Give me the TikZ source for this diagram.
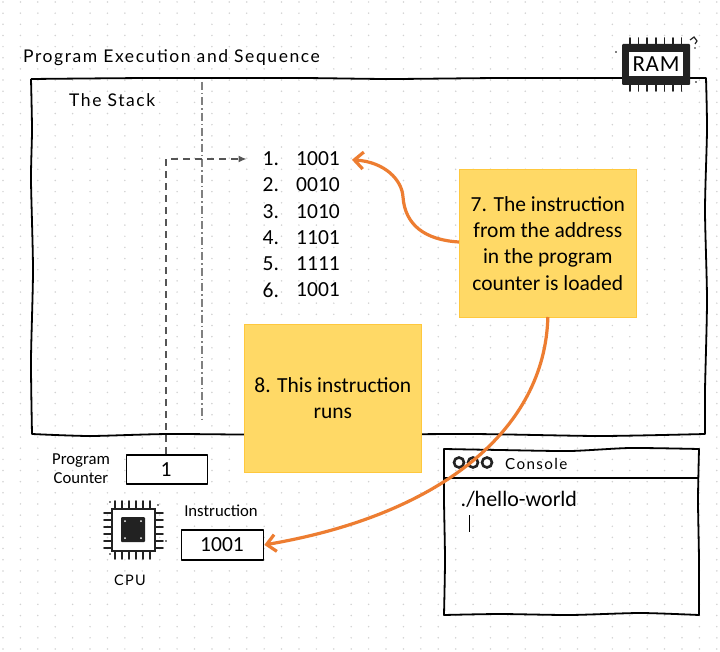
\documentclass[tikz,border=0pt]{standalone}
\usepackage{fontspec}
\setmainfont{Carlito}
\newfontfamily\hand[LetterSpace=9]{Lato}
\usetikzlibrary{arrows.meta}
\definecolor{orangeline}{HTML}{ED7D31}
\definecolor{notefill}{HTML}{FFD966}
\definecolor{noteedge}{HTML}{FFC83D}
\definecolor{griddot}{HTML}{D2D2D2}
\definecolor{dashgrey}{HTML}{555555}
\definecolor{chipblack}{HTML}{222222}
\tikzset{
  x=1pt,y=-1pt,
  sketch/.style={draw=black,line width=1.8pt,line join=round},
  body/.style={inner sep=0pt,text=black,font=\fontsize{21.5}{23}\selectfont},
  small/.style={inner sep=0pt,text=black,font=\fontsize{16.7}{19.5}\selectfont,align=center},
  handtxt/.style={inner sep=0pt,text=black,font=\hand\fontsize{17.5}{20}\selectfont},
  note/.style={draw=noteedge,line width=0.7pt,fill=notefill,anchor=north west,inner sep=0pt,align=center,
    font=\fontsize{21.5}{26.4}\selectfont,text=black},
  flow/.style={draw=orangeline,line width=3.2pt,-{Straight Barb[length=9pt,width=17pt,line width=3.2pt]}},
  pcflow/.style={draw=dashgrey,line width=1.4pt,dash pattern=on 7pt off 5pt,-{Latex[length=8pt,width=7pt]}},
  stackline/.style={draw=gray,line width=1.3pt,dash pattern=on 8pt off 3pt on 1.5pt off 3pt},
  pin/.style={draw=chipblack,line width=1.7pt,line cap=round},
}
\begin{document}
\begin{tikzpicture}
\useasboundingbox (0,0) rectangle (720,652);
\fill[white] (0,0) rectangle (720,652);
% dotted paper
\foreach \i in {0,...,41}{\foreach \j in {0,...,58}{
  \fill[griddot] ({3+17.41*\i},{2+11.155*\j}) circle (0.85pt);}}
% memory frame
\draw[sketch] plot[smooth,tension=0.4] coordinates {(31,79) (150,78) (300,78) (390,79) (500,78) (620,78) (706,78)}
  -- plot[smooth,tension=0.4] coordinates {(706,78) (707,130) (705,210) (707,300) (705,390) (705,434)}
  -- plot[smooth,tension=0.4] coordinates {(705,434) (600,436) (470,434) (300,435) (170,434) (90,436) (32,434)}
  -- plot[smooth,tension=0.4] coordinates {(32,434) (31,360) (33,270) (31,180) (32,130) (31,79)};
\draw[stackline] (202,82) -- (202,422);
% labels
\node[handtxt,anchor=west] (title) at (23,58) {Program Execution and Sequence};
\node[handtxt,anchor=west] (stack) at (69,100) {The Stack};
% list
\foreach \n/\v/\y in {1/1001/159,2/0010/185,3/1010/212,4/1101/238,5/1111/264,6/1001/290}{
  \node[body,anchor=west] (num\n) at (262.5,\y) {\n.};
  \node[body,anchor=west] (item\n) at (296,\y) {\v};
}
% notes
\node[note,minimum width=177pt,minimum height=148pt] (note7) at (459,169) {7. The instruction\\from the address\\in the program\\counter is loaded};
\node[note,minimum width=177pt,minimum height=148pt] (note8) at (244,324) {8. This instruction\\runs};
% registers
\node[small] (pclabel) at (81,468.5) {Program\\Counter};
\node[sketch,fill=white,minimum width=81pt,minimum height=29pt,inner sep=0pt,anchor=north west] (pc) at (125.5,454) {};
\node[body] (pcval) at (166,469.5) {1};
\node[small] (instrlabel) at (221,511) {Instruction};
\node[sketch,fill=white,minimum width=82pt,minimum height=30pt,inner sep=0pt,anchor=north west] (instr) at (180.5,529) {};
\node[body] (instrval) at (222,544.5) {1001};
% CPU icon
\foreach \k in {0,...,5}{
  \draw[pin] ({115+7*\k},501) -- ({115+7*\k},509);
  \draw[pin] ({115+7*\k},551) -- ({115+7*\k},559);
  \draw[pin] (104,{513+7*\k}) -- (112,{513+7*\k});
  \draw[pin] (155,{513+7*\k}) -- (163,{513+7*\k});
}
\draw[draw=chipblack,line width=1.5pt,fill=white] (112,509) rectangle (155,551);
\fill[chipblack,rounded corners=1pt] (121,517) rectangle (145,542);
\foreach \p/\q in {125/521,141/521,125/538,141/538}{\fill[white] (\p,\q) circle (1pt);}
\foreach \p/\q in {110/502,158/505,166/541,110/554}{\fill[black] (\p,\q) circle (0.8pt);}
\node[handtxt,font=\hand\fontsize{14.5}{18}\selectfont] (cpulabel) at (130,580) {CPU};
% console
\draw[sketch] plot[smooth,tension=0.4] coordinates {(444,449) (500,450) (570,451) (630,448) (699,449)}
  -- plot[smooth,tension=0.4] coordinates {(699,449) (698,500) (699,560) (699,615)}
  -- plot[smooth,tension=0.4] coordinates {(699,615) (640,613) (570,615) (500,614) (444,615)}
  -- plot[smooth,tension=0.4] coordinates {(444,615) (445,560) (444,500) (444,449)} -- cycle;
\draw[sketch] (444,478) -- (699,478);
\foreach \c in {459,473,487}{\draw[draw=chipblack,line width=2.6pt] (\c,462.5) circle (5pt);}
\node[handtxt,anchor=west,font=\hand\fontsize{15.2}{18}\selectfont] (console) at (505,464) {Console};
\node[body,anchor=west,font=\fontsize{22}{24}\selectfont] (cmd) at (460.5,499.5) {./hello-world};
\draw[black,line width=1.4pt] (469.5,515) -- (469.5,532);
% RAM icon
\foreach \k in {0,...,6}{
  \draw[pin] ({630+8.6*\k},38) -- ({630+8.6*\k},44);
  \draw[pin] ({630+8.6*\k},85) -- ({630+8.6*\k},91);
}
\fill[chipblack,rounded corners=1pt] (622,44) rectangle (690,85);
\fill[white] (628.5,52) rectangle (683,76);
\node[inner sep=0pt,text=black,font=\fontsize{23}{24}\selectfont\addfontfeature{LetterSpace=3}] (ram) at (656,64) {RAM};
\fill[black] (616,52) circle (0.8pt);
\fill[black] (696,82) circle (0.8pt);
\draw[chipblack,line width=1.2pt] (690,40) -- (694,37) -- (697,41) -- (695,44);
\fill[chipblack] (695,48) circle (0.9pt);
% connectors
\draw[pcflow,shorten >=16pt] (pc.north -| pcval) |- (num1.west);
\draw[flow,shorten >=12pt] (note7.west |- 0,242) .. controls (425,240) and (405,225) .. (403,197) .. controls (402,180) and (385,162) .. (item1.east);
\draw[flow] (note7.south |- 0,317) .. controls (545,430) and (440,515) .. (instr.east);
\end{tikzpicture}
\end{document}
